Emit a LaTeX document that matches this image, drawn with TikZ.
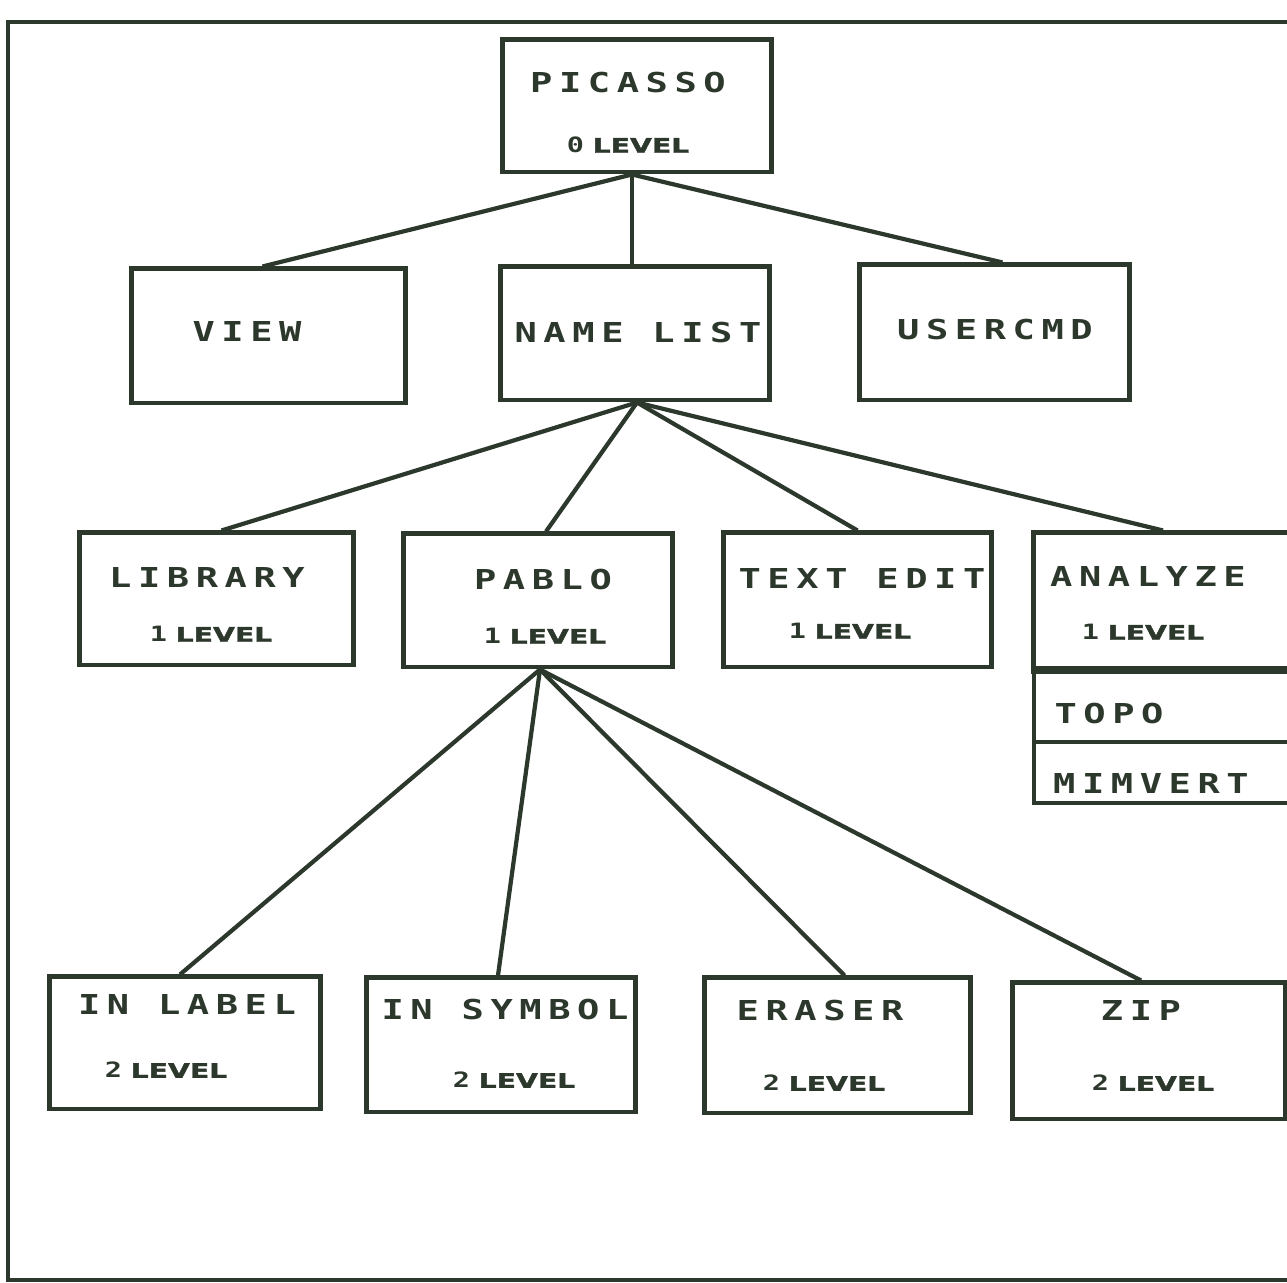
\documentclass[tikz,border=0pt]{standalone}
\usepackage{fontspec}
\usepackage{graphicx}
\usetikzlibrary{calc}
\newfontfamily\plotfont[FakeStretch=1.35,LetterSpace=24]{DejaVu Sans Mono}
\newfontfamily\levfont[FakeBold=1.5]{DejaVu Sans}
\definecolor{ink}{RGB}{45,56,45}
\newcommand\levword{\scalebox{1.2}[0.85]{\fontsize{6.7}{7}\levfont\bfseries LEVEL}}
\newcommand\lvtext[1]{{\fontsize{6}{7}\plotfont\bfseries #1}\hspace{2.5pt}\levword}
\tikzset{
  box/.style={draw=ink, line width=1.4pt, rectangle, inner sep=0pt},
  lbl/.style={text=ink, inner sep=0pt, font=\fontsize{7.8}{9}\plotfont\bfseries},
  lvl/.style={text=ink, inner sep=0pt},
  conn/.style={draw=ink, line width=1.2pt},
  frame/.style={draw=ink, line width=0.9pt}
}
\begin{document}
\begin{tikzpicture}[x=0.01cm, y=-0.01cm]
\useasboundingbox (0,0) rectangle (1287,1283);
\clip (0,0) rectangle (1287,1283);
\fill[white] (0,0) rectangle (1287,1283);
% outer frame
\draw[frame] (1287,22) -- (8,22) -- (8,1280) -- (1287,1280);

% level 0
\node[box, minimum width=2.68cm, minimum height=1.32cm] (picasso) at (637,106) {};
\node[lbl] (picassoT) at (628,83) {PICASSO};
\node[lvl] (picassoL) at (628,145) {\lvtext{0}};

% second row
\node[box, minimum width=2.73cm, minimum height=1.34cm] (view) at (268.5,336) {};
\node[lbl] (viewT) at (247,332) {VIEW};
\node[box, minimum width=2.68cm, minimum height=1.33cm] (namelist) at (635,333.5) {};
\node[lbl] (namelistT) at (638,333) {NAME LIST};
\node[box, minimum width=2.69cm, minimum height=1.35cm] (usercmd) at (994.5,332.5) {};
\node[lbl] (usercmdT) at (995,330) {USERCMD};

% third row
\node[box, minimum width=2.73cm, minimum height=1.32cm] (library) at (216.5,599) {};
\node[lbl] (libraryT) at (207,577) {LIBRARY};
\node[lvl] (libraryL) at (211,634) {\lvtext{1}};
\node[box, minimum width=2.68cm, minimum height=1.33cm] (pablo) at (538,600.5) {};
\node[lbl] (pabloT) at (543,580) {PABLO};
\node[lvl] (pabloL) at (545,636) {\lvtext{1}};
\node[box, minimum width=2.67cm, minimum height=1.34cm] (textedit) at (857.5,600) {};
\node[lbl] (texteditT) at (862,579) {TEXT EDIT};
\node[lvl] (texteditL) at (850,631) {\lvtext{1}};
\node[box, minimum width=2.66cm, minimum height=1.35cm] (analyze) at (1167,600.5) {};
\node[lbl] (analyzeT) at (1148,577) {ANALYZE};
\node[lvl] (analyzeL) at (1143,632) {\lvtext{1}};
\node[box, line width=1.1pt, minimum width=2.66cm, minimum height=0.74cm] (topo) at (1167,705) {};
\node[lbl] (topoT) at (1109,714) {TOPO};
\node[box, line width=1.1pt, minimum width=2.66cm, minimum height=0.61cm] (mimvert) at (1167,772.5) {};
\node[lbl] (mimvertT) at (1151,784) {MIMVERT};
\draw[ink, line width=2.2pt] (analyze.south west) -- (analyze.south east);

% fourth row
\node[box, minimum width=2.70cm, minimum height=1.32cm] (inlabel) at (185,1043) {};
\node[lbl] (inlabelT) at (187,1004) {IN LABEL};
\node[lvl] (inlabelL) at (166,1070) {\lvtext{2}};
\node[box, minimum width=2.68cm, minimum height=1.34cm] (insymbol) at (501,1045) {};
\node[lbl] (insymbolT) at (505,1010) {IN SYMBOL};
\node[lvl] (insymbolL) at (514,1080) {\lvtext{2}};
\node[box, minimum width=2.65cm, minimum height=1.35cm] (eraser) at (837.5,1045.5) {};
\node[lbl] (eraserT) at (820,1011) {ERASER};
\node[lvl] (eraserL) at (824,1083) {\lvtext{2}};
\node[box, minimum width=2.72cm, minimum height=1.36cm] (zip) at (1149,1051) {};
\node[lbl] (zipT) at (1141,1011) {ZIP};
\node[lvl] (zipL) at (1153,1083) {\lvtext{2}};

% connectors
\coordinate (pS) at ($(picasso.south)+(-5,0)$);
\draw[conn] (pS) -- ($(view.north)+(-6,0)$);
\draw[conn] (pS) -- ($(namelist.north)+(-3,0)$);
\draw[conn] (pS) -- ($(usercmd.north)+(8,0)$);

\coordinate (nS) at ($(namelist.south)+(2,0)$);
\draw[conn] (nS) -- ($(library.north)+(5,0)$);
\draw[conn] (nS) -- ($(pablo.north)+(8,0)$);
\draw[conn] (nS) -- ($(textedit.north)+(0,0)$);
\draw[conn] (nS) -- ($(analyze.north)+(-4,0)$);

\coordinate (bS) at ($(pablo.south)+(2,0)$);
\draw[conn] (bS) -- ($(inlabel.north)+(-5,0)$);
\draw[conn] (bS) -- ($(insymbol.north)+(-3,0)$);
\draw[conn] (bS) -- ($(eraser.north)+(7,0)$);
\draw[conn] (bS) -- ($(zip.north)+(-8,0)$);
\end{tikzpicture}
\end{document}
